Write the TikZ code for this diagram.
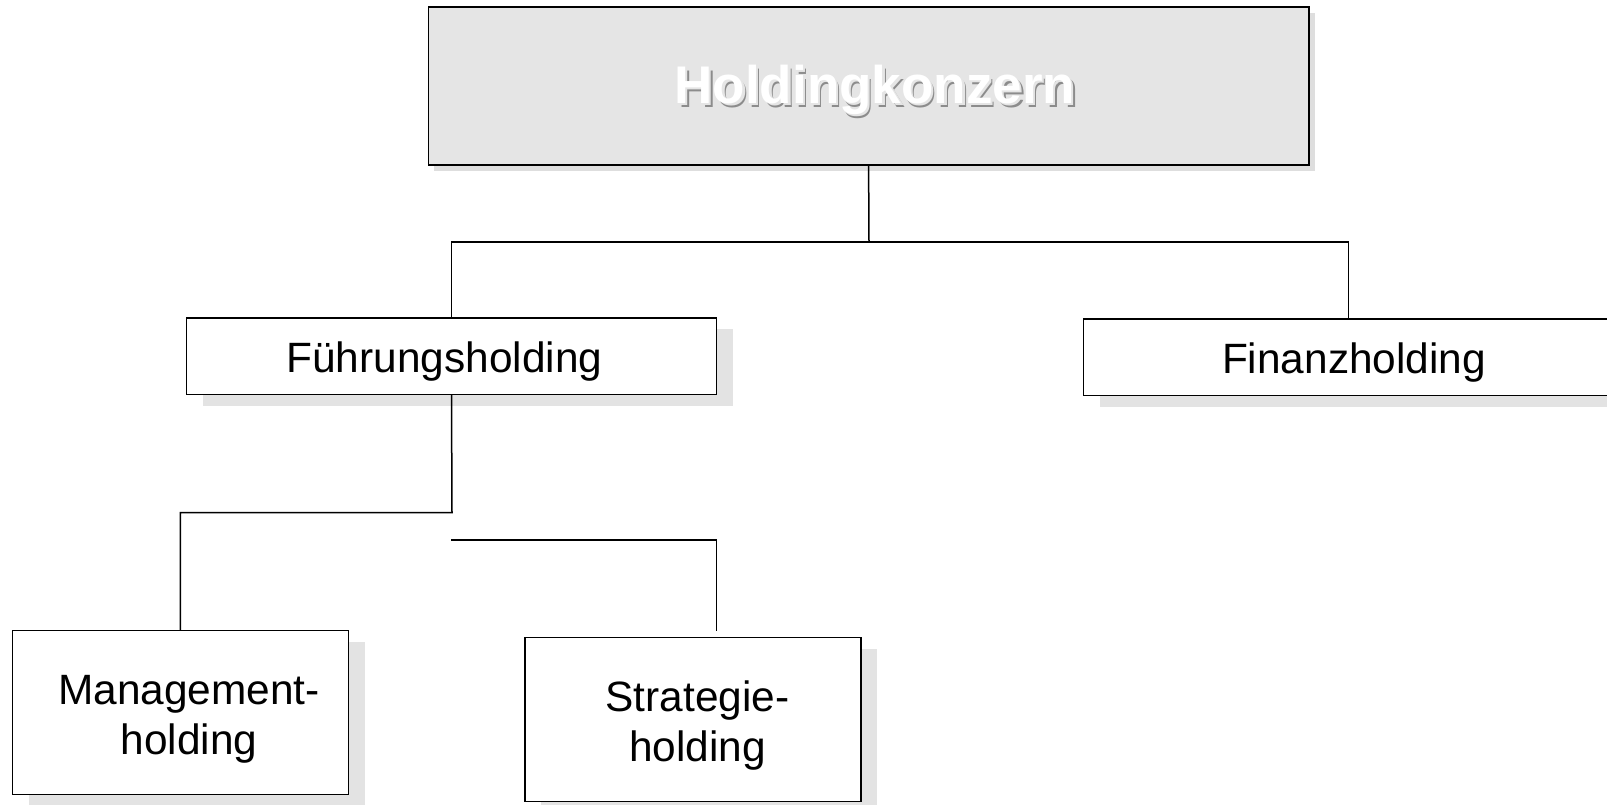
\documentclass[tikz,border=0pt]{standalone}
\usepackage{fontspec}
\setmainfont{Liberation Sans}
\usetikzlibrary{shadows}
% title text with an embossed drop shadow, built into one box
\newcommand{\embossed}[1]{%
  \makebox[0pt][l]{\hspace{3.5pt}\raisebox{-3.5pt}{\color{black!45}#1}}%
  \makebox[0pt][l]{\hspace{2.3pt}\raisebox{-2.3pt}{\color{black!10}#1}}%
  {\color{white}#1}}
\begin{document}
\begin{tikzpicture}[x=1pt,y=-1pt,
  conn/.style={line width=1.5pt, line cap=rect},
  unitbox/.style={draw=black, line width=1.6pt, fill=white, inner sep=0pt,
    drop shadow={shadow xshift=16.5pt, shadow yshift=-11.3pt, fill=black!11, opacity=1}},
  headbox/.style={draw=black, line width=1.6pt, fill=black!10, inner sep=0pt,
    drop shadow={shadow xshift=6pt, shadow yshift=-6pt, fill=black!13, opacity=1}},
  lbl/.style={font=\fontsize{42.4}{50}\selectfont, inner sep=0pt, align=center},
  head/.style={font=\fontsize{53}{60}\selectfont\bfseries, inner sep=0pt, anchor=base}
]
\useasboundingbox (0,0) rectangle (1607,804);

% boxes
\node[headbox, minimum width=880.4pt, minimum height=157.8pt] (top) at (868.6,86.1) {};
\node[unitbox, minimum width=529.9pt, minimum height=76.9pt] (fuehr) at (451.5,356.2) {};
\node[unitbox, minimum width=529.9pt, minimum height=76.9pt] (fin) at (1348.3,357.2) {};
\node[unitbox, minimum width=336.2pt, minimum height=164pt] (mgmt) at (180.4,712.3) {};
\node[unitbox, minimum width=336.2pt, minimum height=164pt] (strat) at (692.8,719.5) {};

% title
\node[head] (hk) at (874.8,103.5) {\embossed{Holdingkonzern}};

% labels
\node[lbl, anchor=base] (fuehrtxt) at (444.3,372.5) {Führungsholding};
\node[lbl, anchor=base] (fintxt) at (1354,373.5) {Finanzholding};
\node[lbl] (mgmttxt) at (189,719) {Management-\\holding};
\node[lbl] (strattxt) at (697.4,725.8) {Strategie-\\holding};

% connectors
\coordinate (bus) at (869,241.9);
\coordinate (split) at (452,512.5);
\coordinate (free) at (452,540.1);
\coordinate (stratin) at (716.4,630.3);
\draw[conn] (top.south) -- (bus);
\draw[conn] (fuehr.north) |- (bus) -| (fin.north);
\draw[conn] (fuehr.south) -- (split) -| (mgmt.north);
\draw[conn] (free) -| (stratin);
\end{tikzpicture}
\end{document}
